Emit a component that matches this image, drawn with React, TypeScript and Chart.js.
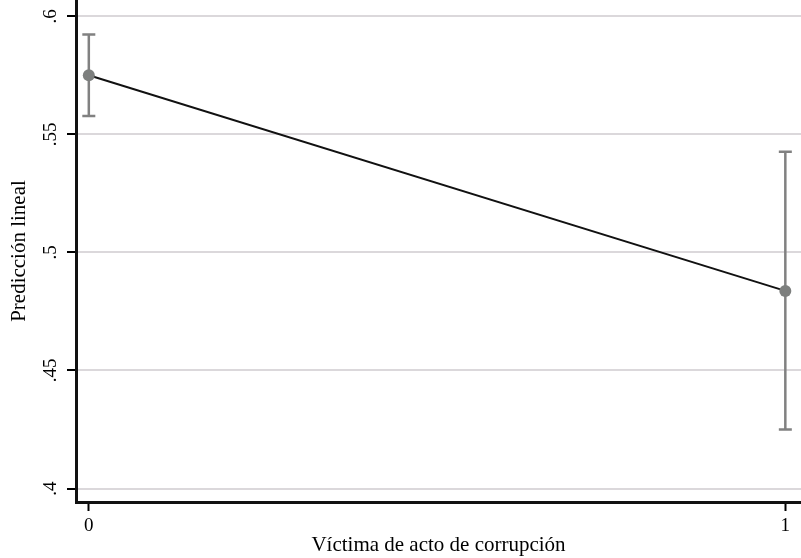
import React, { useEffect, useRef } from "react";
import { Chart, registerables } from "chart.js";

Chart.register(...registerables);

const categories = [0, 1];
const predicted = [0.575, 0.4837];
const ciLow = [0.5578, 0.425];
const ciHigh = [0.5923, 0.5426];
const yTickValues = [0.4, 0.45, 0.5, 0.55, 0.6];
const yTickLabels = [".4", ".45", ".5", ".55", ".6"];
const xTickValues = [0, 1];
const xTickLabels = ["0", "1"];
const xTitle = "Víctima de acto de corrupción";
const yTitle = "Predicción lineal";

const FONT = "'Liberation Serif', 'Times New Roman', serif";

const errorBarPlugin = {
  id: "errorBars",
  beforeDatasetsDraw(chart: any) {
    const { ctx, scales } = chart;
    const xs = scales.x;
    const ys = scales.y;
    ctx.save();
    ctx.strokeStyle = "#818181";
    ctx.lineWidth = 2.5;
    categories.forEach((c, i) => {
      const x = xs.getPixelForValue(c);
      const yl = ys.getPixelForValue(ciLow[i]);
      const yh = ys.getPixelForValue(ciHigh[i]);
      ctx.beginPath();
      ctx.moveTo(x, yl);
      ctx.lineTo(x, yh);
      ctx.moveTo(x - 6.5, yl);
      ctx.lineTo(x + 6.5, yl);
      ctx.moveTo(x - 6.5, yh);
      ctx.lineTo(x + 6.5, yh);
      ctx.stroke();
    });
    ctx.restore();
  },
  afterDraw(chart: any) {
    const { ctx, scales, chartArea } = chart;
    const ys = scales.y;
    ctx.save();
    ctx.fillStyle = "#000";
    ctx.font = `19px ${FONT}`;
    ctx.textAlign = "center";
    ctx.textBaseline = "middle";
    yTickValues.forEach((v, i) => {
      const y = ys.getPixelForValue(v);
      ctx.save();
      ctx.translate(51, y);
      ctx.rotate(-Math.PI / 2);
      ctx.fillText(yTickLabels[i], 0, 0);
      ctx.restore();
    });
    ctx.font = `21px ${FONT}`;
    ctx.save();
    ctx.translate(19, (chartArea.top + chartArea.bottom) / 2);
    ctx.rotate(-Math.PI / 2);
    ctx.fillText(yTitle, 0, 0);
    ctx.restore();
    ctx.restore();
  },
};

export default function App() {
  const ref = useRef<HTMLCanvasElement | null>(null);
  useEffect(() => {
    if (!ref.current) return;
    const chart = new Chart(ref.current, {
      type: "line",
      data: {
        datasets: [
          {
            data: categories.map((c, i) => ({ x: c, y: predicted[i] })),
            borderColor: "#111111",
            borderWidth: 2,
            pointRadius: 6,
            pointBackgroundColor: "#7d7f7e",
            pointBorderColor: "#7d7f7e",
            pointBorderWidth: 0,
            tension: 0,
            clip: false,
          },
        ],
      },
      options: {
        responsive: false,
        animation: false,
        layout: { padding: 0, autoPadding: false },
        plugins: { legend: { display: false }, tooltip: { enabled: false } },
        scales: {
          x: {
            type: "linear",
            min: -0.0184,
            max: 1.0225,
            afterBuildTicks: (s: any) => {
              s.ticks = xTickValues.map((v) => ({ value: v }));
            },
            afterFit: (s: any) => {
              s.height = 56;
              s.paddingLeft = 0;
              s.paddingRight = 0;
            },
            ticks: {
              color: "#000",
              font: { family: FONT, size: 19 },
              padding: 4,
              maxRotation: 0,
              callback: (v: any) => xTickLabels[xTickValues.indexOf(Number(v))] ?? "",
            },
            grid: {
              drawOnChartArea: false,
              drawTicks: true,
              tickLength: 9,
              tickWidth: 2,
              tickColor: "#000",
              color: "#000",
            },
            border: { display: true, color: "#111", width: 3 },
            title: {
              display: true,
              text: xTitle,
              color: "#000",
              font: { family: FONT, size: 21 },
              padding: { top: 0, bottom: 0 },
            },
          },
          y: {
            type: "linear",
            min: 0.3943,
            max: 0.6069,
            afterBuildTicks: (s: any) => {
              s.ticks = yTickValues.map((v) => ({ value: v }));
            },
            afterFit: (s: any) => {
              s.width = 76;
              s.paddingTop = 0;
              s.paddingBottom = 0;
            },
            ticks: { display: false },
            grid: {
              drawOnChartArea: true,
              drawTicks: true,
              tickLength: 9,
              tickWidth: 2,
              tickColor: "#000",
              color: "#dbd8db",
              lineWidth: 2,
            },
            border: { display: true, color: "#111", width: 3 },
          },
        },
      },
      plugins: [errorBarPlugin],
    } as any);
    return () => chart.destroy();
  }, []);
  return (
    <div style={{ position: "absolute", left: 0, top: 0, width: 801, height: 558, background: "#fff" }}>
      <canvas ref={ref} width={801} height={558} style={{ display: "block" }} />
    </div>
  );
}
